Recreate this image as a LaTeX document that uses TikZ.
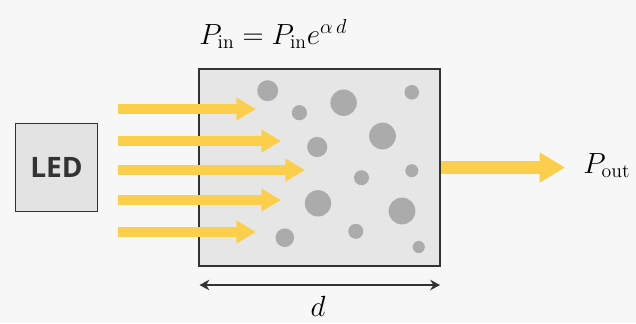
\documentclass[tikz,border=0pt]{standalone}
\usepackage{fontspec}
\newfontfamily\ledfont{Open Sans}
\usetikzlibrary{arrows.meta,positioning}
\definecolor{beamYellow}{HTML}{FBCF4C}
\definecolor{mediumFill}{HTML}{E6E6E6}
\definecolor{ledFill}{HTML}{E3E3E3}
\definecolor{particleGrey}{HTML}{ABABAB}
\definecolor{edgeDark}{HTML}{333333}
\definecolor{paperBg}{HTML}{F7F7F7}

\begin{document}
\begin{tikzpicture}[x=0.025cm,y=-0.025cm,
    every node/.style={font=\fontsize{20}{24}\selectfont},
    beam/.style={beamYellow,line width=7.5pt,-{Triangle[length=13.9pt,width=15.4pt]}},
    outbeam/.style={beamYellow,line width=9.5pt,-{Triangle[length=18.1pt,width=20.3pt]}},
    dimline/.style={edgeDark,line width=1.3pt,{Stealth[length=7pt,width=7.5pt]}-{Stealth[length=7pt,width=7.5pt]}}]
      \fill[paperBg] (0,0) rectangle (636,323);
      \useasboundingbox (0,0) rectangle (636,323);
      \node[draw=edgeDark,fill=mediumFill,line width=1.4pt,minimum width=6cm,minimum height=4.925cm,inner sep=0] (medium) at (319.5,167.5) {};
      \node[draw=edgeDark,fill=ledFill,line width=1.1pt,minimum width=2.05cm,minimum height=2.2cm,inner sep=0,
            font=\ledfont\bfseries\fontsize{20}{24}\selectfont,text=edgeDark] (led) at (56.5,167.5) {LED};
      \foreach \x/\y/\r in {%
        267.7/90.7/10.5, 299.4/112.7/7.6, 343.6/102.7/13.2, 411.8/92.3/7.3,
        317.2/147/10.1, 382.5/136/13.4, 361.5/177.7/7.5, 411.8/170.7/6.5,
        318/203.3/13.2, 402/211/13.4, 355.8/231.3/7.5, 284.8/237.7/9.3,
        418.7/247/6.1}{%
        \fill[particleGrey] (\x,\y) circle[radius=\r];
      }
      \foreach \i/\y/\t in {1/109/256, 2/141/281, 3/170/305, 4/200/281, 5/232/256}{%
        \coordinate (beamS\i) at (118,\y);
        \coordinate (beamE\i) at (\t,\y);
        \draw[beam] (beamS\i) -- (beamE\i);
      }
      \coordinate (outTip) at (565,167.5);
      \draw[outbeam] (medium.east) -- (outTip);
      \node[anchor=base west,inner sep=0] (pout) at (583,173) {$P_{\mathrm{out}}$};
      \node[anchor=base west,inner sep=0] (law) at (199,44) {$P_{\mathrm{in}}=P_{\mathrm{in}}e^{\alpha\,d}$};
      \coordinate (dimL) at (199.5,285);
      \coordinate (dimR) at (440,285);
      \draw[dimline] (dimL) -- (dimR);
      \node[anchor=base,inner sep=0] (dlabel) at (318,316) {$d$};
    \end{tikzpicture}
\end{document}
